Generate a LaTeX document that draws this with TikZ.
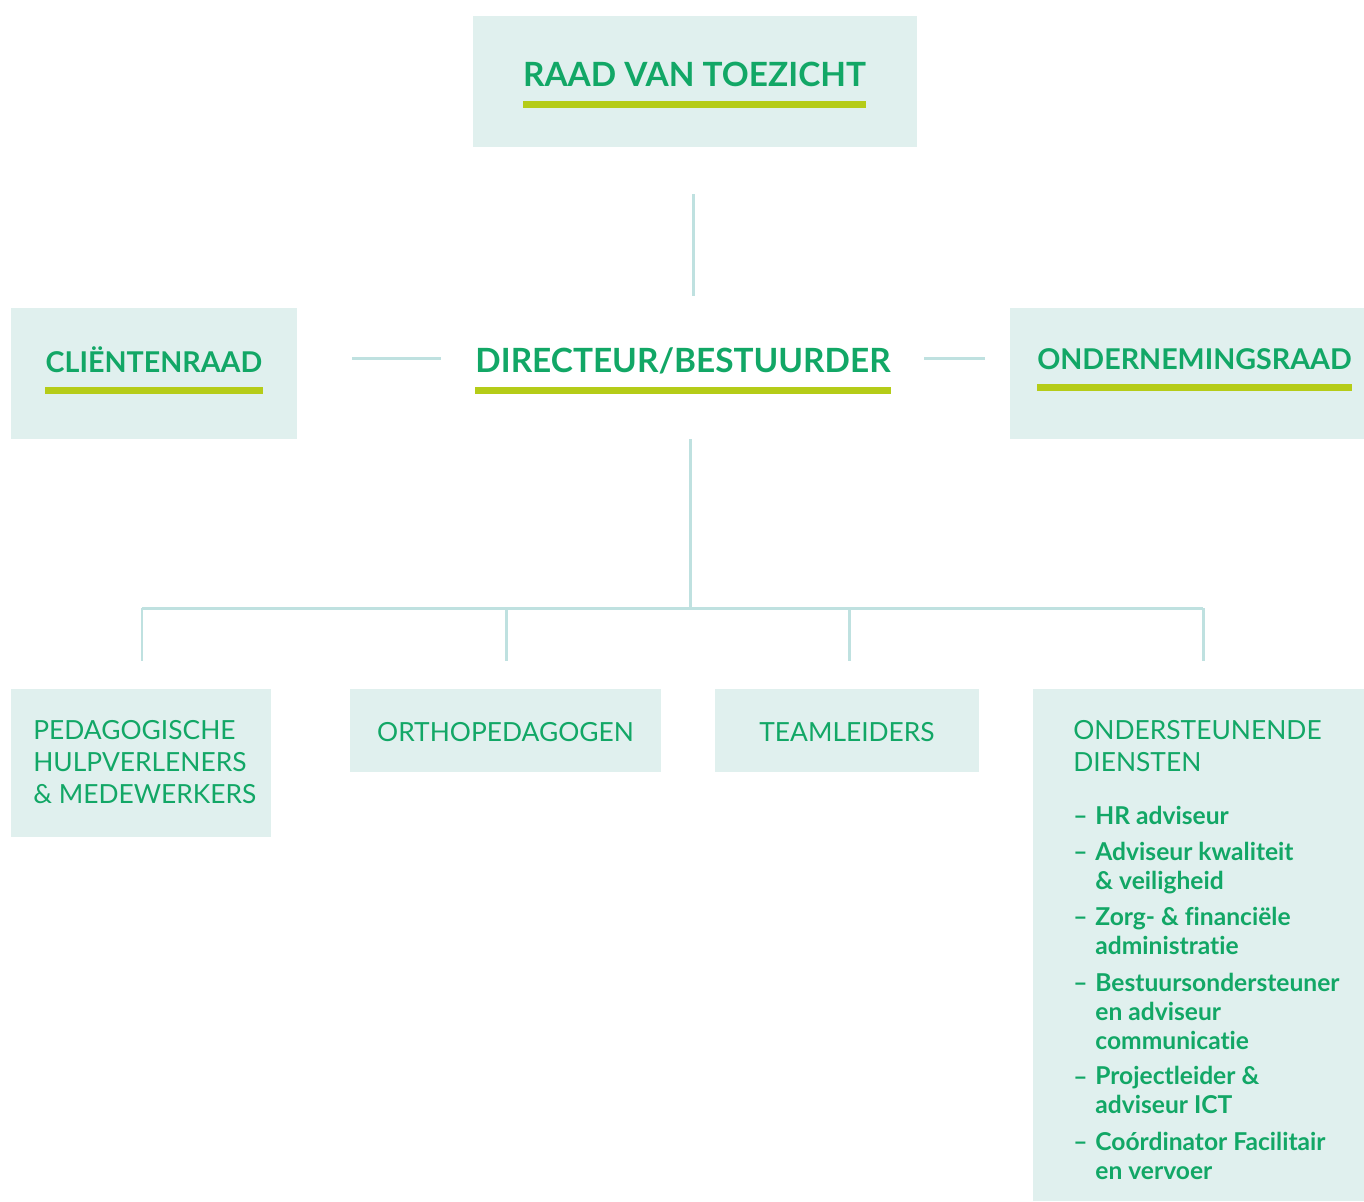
\documentclass[tikz,border=0pt]{standalone}
\usepackage{fontspec}
\setmainfont[Ligatures=NoCommon]{Lato}
\usetikzlibrary{calc}
\definecolor{boxfill}{HTML}{E0F0EE}
\definecolor{orggreen}{HTML}{12A766}
\definecolor{lime}{HTML}{B5CC18}
\definecolor{linkcol}{HTML}{BFE1E0}

\begin{document}
\begin{tikzpicture}[x=0.02cm,y=-0.02cm,
  box/.style={fill=boxfill, inner sep=0pt},
  title/.style={text=orggreen, font=\fontsize{19}{23}\selectfont\bfseries, inner sep=0pt},
  sidetitle/.style={title, font=\fontsize{16.3}{20}\selectfont\bfseries},
  unit/.style={text=orggreen, font=\fontsize{15}{18.1}\selectfont, inner sep=0pt, align=left},
  item/.style={text=orggreen, font=\fontsize{14}{16.4}\selectfont\bfseries, inner sep=0pt, align=left},
  link/.style={draw=linkcol, line width=1.7pt}]
\useasboundingbox (0,0) rectangle (1364,1201);

% boxes
\node[box, minimum width=8.88cm, minimum height=2.62cm] (rvt) at (695,81.5) {};
\node[box, minimum width=5.72cm, minimum height=2.62cm] (cr) at (154,373.5) {};
\node[box, minimum width=7.08cm, minimum height=2.62cm] (or) at (1187,373.5) {};
\node[box, minimum width=5.2cm, minimum height=2.96cm] (ped) at (141,763) {};
\node[box, minimum width=6.22cm, minimum height=1.66cm] (orth) at (505.5,730.5) {};
\node[box, minimum width=5.28cm, minimum height=1.66cm] (team) at (847,730.5) {};
\node[box, minimum width=6.62cm, minimum height=10.24cm] (ond) at (1198.5,945) {};

% titles with bar
\node[title, anchor=base] (rvtt) at (694.5,86) {RAAD VAN TOEZICHT};
\node[sidetitle, anchor=base] (crt) at (154,372) {CLIËNTENRAAD};
\node[title, anchor=base] (dirt) at (683,372) {DIRECTEUR/BESTUURDER};
\node[sidetitle, anchor=base] (ort) at (1194.5,369) {ONDERNEMINGSRAAD};
\foreach \n in {rvtt,crt,dirt,ort}
  \fill[lime] ($(\n.base west)+(0,15)$) rectangle ($(\n.base east)+(0,22)$);

% lower units (base = last line)
\node[unit, anchor=base west] (pedt) at (33,803) {PEDAGOGISCHE\\HULPVERLENERS\\\& MEDEWERKERS};
\node[unit, anchor=base] (ortht) at (505.5,741) {ORTHOPEDAGOGEN};
\node[unit, anchor=base] (teamt) at (847,741) {TEAMLEIDERS};
\node[unit, anchor=base west] (ondt) at (1073,771.5) {ONDERSTEUNENDE\\DIENSTEN};

\foreach \i/\y/\z/\t in {1/824/824/{HR adviseur},
    2/860/889/{Adviseur kwaliteit\\\& veiligheid},
    3/925/954/{Zorg- \& financiële\\administratie},
    4/991/1049/{Bestuursondersteuner\\en adviseur\\communicatie},
    5/1085/1113/{Projectleider \&\\adviseur ICT},
    6/1150/1179/{Coórdinator Facilitair\\en vervoer}}{
  \node[item, anchor=base west] (dash\i) at (1073,\y) {–};
  \node[item, anchor=base west] (it\i) at (1095,\z) {\t};
}

% connectors
\coordinate (rvtend) at (693,194);
\coordinate (dirtop) at (693,296);
\coordinate (crend) at (352,358);
\coordinate (dirleft) at (441,358);
\coordinate (dirright) at (924,358);
\coordinate (orend) at (985,358);
\coordinate (dirbot) at (690,439);
\coordinate (bus) at (690,608);
\coordinate (busl) at (142,608);
\coordinate (busr) at (1203,608);
\draw[link] (rvtend) -- (dirtop);
\draw[link] (crend) -- (dirleft);
\draw[link] (dirright) -- (orend);
\draw[link] (dirbot) -- (bus);
\draw[link] (busl) -- (busr);
\foreach \x/\n in {142/ped,506/orth,849/team,1203/ond}
  \draw[link] (\x,608) -- (\x,661);
\end{tikzpicture}
\end{document}
